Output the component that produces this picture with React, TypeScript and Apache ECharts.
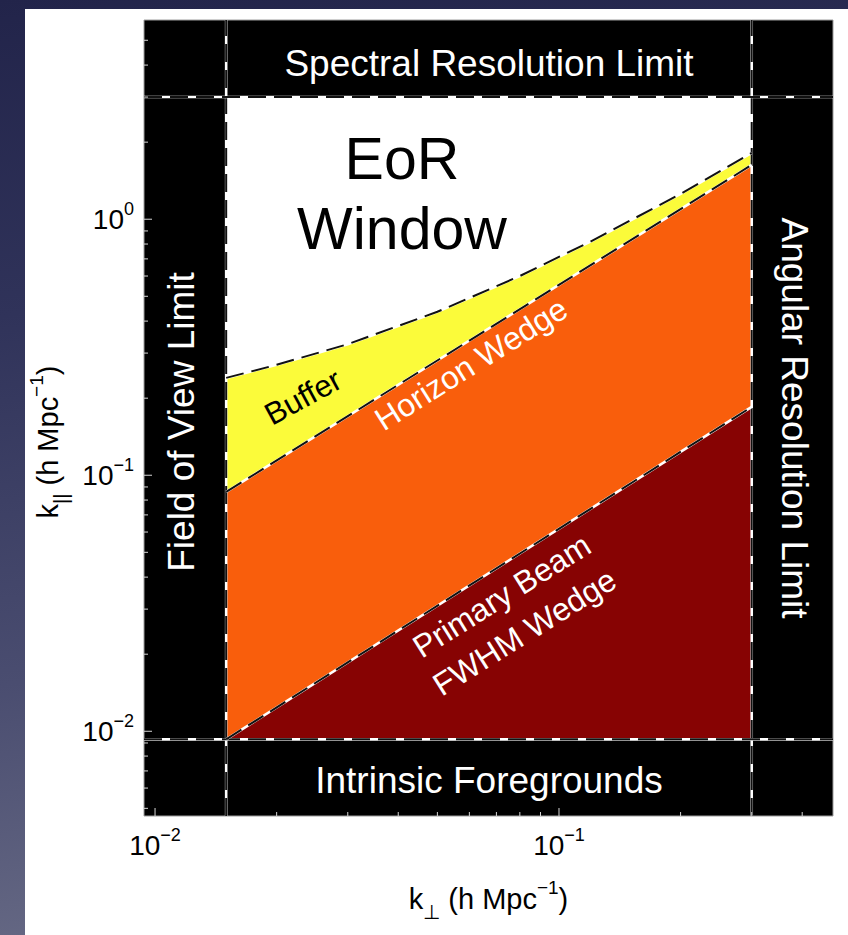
import React, { useEffect, useRef } from "react";
import * as echarts from "echarts";

const FONT = '"Liberation Sans", Arial, Helvetica, sans-serif';

// axis extents (h Mpc^-1)
const kPerpRange = [0.00939, 0.4768];
const kParRange = [0.004667, 6.0];

// instrumental limits
const fieldOfViewLimit = 0.015;
const angularResolutionLimit = 0.3;
const spectralResolutionLimit = 3.0;
const intrinsicForegroundLimit = 0.0093;

// wedge boundaries (straight lines in log-log)
const wedgeKPerp = [0.015, 0.3];
const primaryBeamKPar = [0.0093, 0.185];
const horizonKPar = [0.0861, 1.63];

// buffer boundary (curved)
const bufferKPerp = [0.015, 0.02, 0.03, 0.05, 0.08, 0.12, 0.2, 0.3];
const bufferKPar = [0.24, 0.27, 0.325, 0.435, 0.6, 0.82, 1.255, 1.815];

// ticks
const kPerpMajorTicks = [0.01, 0.1];
const kPerpTickExponents = ["\u22122", "\u22121"];
const kPerpMinorTicks = [0.02, 0.03, 0.04, 0.05, 0.06, 0.07, 0.08, 0.09, 0.2, 0.3, 0.4];
const kParMajorTicks = [0.01, 0.1, 1];
const kParTickExponents = ["\u22122", "\u22121", "0"];
const kParMinorTicks = [
  0.005, 0.006, 0.007, 0.008, 0.009,
  0.02, 0.03, 0.04, 0.05, 0.06, 0.07, 0.08, 0.09,
  0.2, 0.3, 0.4, 0.5, 0.6, 0.7, 0.8, 0.9,
  2, 3, 4, 5,
];

const COLORS = {
  black: "#000000",
  boxEdge: "#9c9c9c",
  yellow: "#fbfb3a",
  orange: "#f95e0c",
  darkRed: "#870303",
  tick: "#d6d6d6",
};

function tickFormatter(ticks: number[], exps: string[]) {
  return (v: number) => {
    const i = ticks.findIndex((t) => Math.abs(Math.log10(t) - Math.log10(v)) < 1e-6);
    return i < 0 ? "" : `{base|10}{hi|${exps[i]}}`;
  };
}

const tickRich = {
  base: { fontSize: 28, fontFamily: FONT, color: "#000000" },
  hi: { fontSize: 18, fontFamily: FONT, color: "#000000", padding: [0, 0, 20, 0] },
};

const nameRich = {
  mm: { fontSize: 29, fontFamily: FONT, color: "#000000" },
  lo: { fontSize: 20, fontFamily: FONT, color: "#000000", padding: [26, 0, 0, 0] },
  hi: { fontSize: 19, fontFamily: FONT, color: "#000000", padding: [0, 0, 24, 0] },
};

function dashed(points: number[][]) {
  return [
    { type: "polyline", shape: { points }, style: { stroke: "#ffffff", lineWidth: 2.6, fill: "none" } },
    { type: "polyline", shape: { points }, style: { stroke: "#111111", lineWidth: 2, lineDash: [18, 8], fill: "none" } },
  ];
}

const centered = { align: "center", verticalAlign: "middle", textAlign: "center", textVerticalAlign: "middle" };

export default function App() {
  const ref = useRef<HTMLDivElement>(null);

  useEffect(() => {
    if (!ref.current) return;
    const chart = echarts.init(ref.current, undefined, { renderer: "svg" });

    const [x0, x1] = kPerpRange;
    const [y0, y1] = kParRange;

    const rectBetween = (api: any, ax: number, bx: number, ay: number, by: number) => {
      const a = api.coord([ax, by]);
      const b = api.coord([bx, ay]);
      return { x: a[0], y: a[1], width: b[0] - a[0], height: b[1] - a[1] };
    };

    const polygonSeries = (name: string, pts: number[][], color: string, z: number) => ({
      type: "custom",
      name,
      coordinateSystem: "cartesian2d",
      silent: true,
      z,
      data: [pts[0]],
      renderItem: (_p: any, api: any) => ({
        type: "polygon",
        shape: { points: pts.map((p) => api.coord(p)) },
        style: { fill: color },
      }),
    });

    const primaryPts = [
      [wedgeKPerp[0], primaryBeamKPar[0]],
      [wedgeKPerp[1], primaryBeamKPar[1]],
      [wedgeKPerp[1], intrinsicForegroundLimit],
    ];
    const horizonPts = [
      [wedgeKPerp[0], intrinsicForegroundLimit],
      [wedgeKPerp[0], horizonKPar[0]],
      [wedgeKPerp[1], horizonKPar[1]],
      [wedgeKPerp[1], primaryBeamKPar[1]],
    ];
    const bufferLine = bufferKPerp.map((k, i) => [k, bufferKPar[i]]);
    const bufferPts = [
      ...bufferLine,
      [wedgeKPerp[1], horizonKPar[1]],
      [wedgeKPerp[0], horizonKPar[0]],
    ];

    const option: any = {
      animation: false,
      backgroundColor: "transparent",
      textStyle: { fontFamily: FONT },
      grid: { left: 144, top: 20, width: 689, height: 796, show: false },
      xAxis: {
        type: "log",
        logBase: 10,
        min: x0,
        max: x1,
        axisLine: { show: false },
        axisTick: { show: false },
        minorTick: { show: false },
        splitLine: { show: false },
        axisLabel: {
          margin: 10,
          showMinLabel: false,
          showMaxLabel: false,
          color: "#000000",
          fontSize: 28,
          fontFamily: FONT,
          formatter: tickFormatter(kPerpMajorTicks, kPerpTickExponents),
          rich: tickRich,
        },
        name: "{mm|k}{lo|\u22a5}{mm| (h Mpc}{hi|\u22121}{mm|)}",
        nameLocation: "middle",
        nameGap: 60,
        nameTextStyle: { color: "#000000", fontSize: 29, fontFamily: FONT, rich: nameRich },
      },
      yAxis: {
        type: "log",
        logBase: 10,
        min: y0,
        max: y1,
        axisLine: { show: false },
        axisTick: { show: false },
        minorTick: { show: false },
        splitLine: { show: false },
        axisLabel: {
          margin: 10,
          showMinLabel: false,
          showMaxLabel: false,
          color: "#000000",
          fontSize: 28,
          fontFamily: FONT,
          formatter: tickFormatter(kParMajorTicks, kParTickExponents),
          rich: tickRich,
        },
        name: "{mm|k}{lo|||}{mm| (h Mpc}{hi|\u22121}{mm|)}",
        nameLocation: "middle",
        nameGap: 70,
        nameTextStyle: { color: "#000000", fontSize: 29, fontFamily: FONT, rich: nameRich, padding: [0, 48, 0, 0] },
      },
      graphic: [
        { type: "rect", z: 0, silent: true, shape: { x: 25, y: 9, width: 823, height: 926 }, style: { fill: "#ffffff" } },
        {
          type: "text", z: 50, x: 489, y: 63, silent: true,
          style: { text: "Spectral Resolution Limit", fill: "#fff", fontSize: 37, fontFamily: FONT, ...centered },
        },
        {
          type: "text", z: 50, x: 489, y: 780, silent: true,
          style: { text: "Intrinsic Foregrounds", fill: "#fff", fontSize: 37, fontFamily: FONT, ...centered },
        },
        {
          type: "text", z: 50, x: 181, y: 422, rotation: Math.PI / 2, silent: true,
          style: { text: "Field of View Limit", fill: "#fff", fontSize: 37, fontFamily: FONT, ...centered },
        },
        {
          type: "text", z: 50, x: 794, y: 418, rotation: -Math.PI / 2, silent: true,
          style: { text: "Angular Resolution Limit", fill: "#fff", fontSize: 37, fontFamily: FONT, ...centered },
        },
        {
          type: "text", z: 50, x: 402, y: 194, silent: true,
          style: { text: "EoR\nWindow", fill: "#000", fontSize: 59, lineHeight: 70, fontFamily: FONT, ...centered },
        },
        {
          type: "text", z: 50, x: 303, y: 397, rotation: 0.5, silent: true,
          style: { text: "Buffer", fill: "#000", fontSize: 31, fontFamily: FONT, ...centered },
        },
        {
          type: "text", z: 50, x: 471, y: 364, rotation: 0.56, silent: true,
          style: { text: "Horizon Wedge", fill: "#fff", fontSize: 32, fontFamily: FONT, ...centered },
        },
        {
          type: "text", z: 50, x: 513, y: 614, rotation: 0.56, silent: true,
          style: { text: "Primary Beam\nFWHM Wedge", fill: "#fff", fontSize: 32, lineHeight: 43, fontFamily: FONT, ...centered },
        },
      ],
      series: [
        {
          type: "custom",
          name: "Instrumental limits",
          coordinateSystem: "cartesian2d",
          silent: true,
          z: 2,
          data: [[x0, y0]],
          renderItem: (_p: any, api: any) => ({
            type: "group",
            children: [
              [x0, fieldOfViewLimit, y0, y1],
              [angularResolutionLimit, x1, y0, y1],
              [fieldOfViewLimit, angularResolutionLimit, spectralResolutionLimit, y1],
              [fieldOfViewLimit, angularResolutionLimit, y0, intrinsicForegroundLimit],
            ].map((r) => ({
              type: "rect",
              shape: rectBetween(api, r[0], r[1], r[2], r[3]),
              style: { fill: COLORS.black, stroke: COLORS.boxEdge, lineWidth: 1 },
            })),
          }),
        },
        polygonSeries("Buffer", bufferPts, COLORS.yellow, 3),
        polygonSeries("Horizon Wedge", horizonPts, COLORS.orange, 3),
        polygonSeries("Primary Beam FWHM Wedge", primaryPts, COLORS.darkRed, 3),
        {
          type: "custom",
          name: "Boundaries",
          coordinateSystem: "cartesian2d",
          silent: true,
          z: 5,
          data: [[x0, y0]],
          renderItem: (_p: any, api: any) => {
            const lines = [
              [[fieldOfViewLimit, y0], [fieldOfViewLimit, y1]],
              [[angularResolutionLimit, y0], [angularResolutionLimit, y1]],
              [[x0, spectralResolutionLimit], [x1, spectralResolutionLimit]],
              [[x0, intrinsicForegroundLimit], [x1, intrinsicForegroundLimit]],
              [[wedgeKPerp[0], primaryBeamKPar[0]], [wedgeKPerp[1], primaryBeamKPar[1]]],
              [[wedgeKPerp[0], horizonKPar[0]], [wedgeKPerp[1], horizonKPar[1]]],
              bufferLine,
            ];
            const children: any[] = [];
            lines.forEach((l) => children.push(...dashed(l.map((p) => api.coord(p)))));
            return { type: "group", children };
          },
        },
        {
          type: "custom",
          name: "Ticks",
          coordinateSystem: "cartesian2d",
          silent: true,
          z: 6,
          data: [[x0, y0]],
          renderItem: (_p: any, api: any) => {
            const children: any[] = [];
            const addX = (v: number, len: number) => {
              const p = api.coord([v, y0]);
              children.push({ type: "line", shape: { x1: p[0], y1: p[1], x2: p[0], y2: p[1] - len }, style: { stroke: COLORS.tick, lineWidth: 1 } });
            };
            const addY = (v: number, len: number) => {
              const p = api.coord([x0, v]);
              children.push({ type: "line", shape: { x1: p[0], y1: p[1], x2: p[0] + len, y2: p[1] }, style: { stroke: COLORS.tick, lineWidth: 1 } });
            };
            kPerpMajorTicks.forEach((v) => addX(v, 8));
            kPerpMinorTicks.forEach((v) => addX(v, 4));
            kParMajorTicks.forEach((v) => addY(v, 8));
            kParMinorTicks.forEach((v) => addY(v, 4));
            return { type: "group", children };
          },
        },
      ],
    };

    chart.setOption(option);
    return () => chart.dispose();
  }, []);

  return (
    <div
      style={{
        position: "fixed",
        left: 0,
        top: 0,
        width: 848,
        height: 935,
        background: "linear-gradient(172deg, #22244a 0%, #30335a 30%, #4a4d70 65%, #6f728b 100%)",
      }}
    >
      <div ref={ref} style={{ width: 848, height: 935 }} />
    </div>
  );
}
